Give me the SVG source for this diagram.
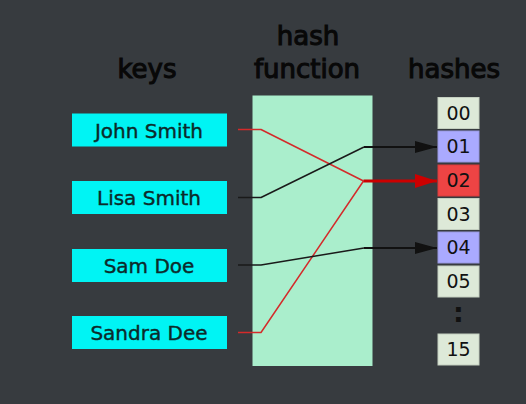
<svg xmlns="http://www.w3.org/2000/svg" width="526" height="404" viewBox="0 0 526 404">
  <defs>
    <marker id="arrowBlack" viewBox="0 0 22 12" refX="22" refY="6" markerUnits="userSpaceOnUse" markerWidth="22" markerHeight="12" orient="auto">
      <path d="M0,0 L22,6 L0,12 Z" fill="#111"/>
    </marker>
    <marker id="arrowRed" viewBox="0 0 22 14" refX="22" refY="7" markerUnits="userSpaceOnUse" markerWidth="22" markerHeight="14" orient="auto">
      <path d="M0,0 L22,7 L0,14 Z" fill="#cc0000"/>
    </marker>
  </defs>
  <style>
    .title { font-family: "DejaVu Sans", sans-serif; font-size: 26px; fill: #080808; stroke: #080808; stroke-width: 1.1px; text-anchor: middle; }
    .key rect { fill: #00f4f4; }
    .key text { font-family: "DejaVu Sans", sans-serif; font-size: 20px; fill: #0c2a2a; stroke: #0c2a2a; stroke-width: 0.4px; text-anchor: middle; }
    .slot rect { fill: #dde9d8; stroke: #c4cfc0; stroke-width: 1; }
    .slot.hit rect { fill: #aaaaff; stroke: #9898e0; }
    .slot.collide rect { fill: #ee4444; stroke: #d83c3c; }
    .slot text, .dots { font-family: "DejaVu Sans", sans-serif; font-size: 19px; fill: #111; text-anchor: middle; }
    .dots { font-size: 27px; font-weight: bold; }
    .wire { fill: none; stroke-width: 1.5; stroke-linejoin: round; }
    .wire.red { stroke: #d42a2a; }
    .wire.black { stroke: #1a1a1a; }
    .arrow { fill: none; }
  </style>

  <rect x="0" y="0" width="526" height="404" fill="#373b3f"/>

  <!-- column headings -->
  <text class="title" x="147" y="78">keys</text>
  <text class="title" x="308" y="45">hash</text>
  <text class="title" x="307" y="78">function</text>
  <text class="title" x="454" y="78">hashes</text>

  <!-- hash function block -->
  <g id="hash-function">
    <rect x="252.5" y="95.5" width="120" height="270.5" fill="#aaeecc"/>
  </g>

  <!-- keys -->
  <g id="key-john" class="key">
    <rect x="72" y="113.5" width="155" height="33"/>
    <text x="149" y="137.5">John Smith</text>
  </g>
  <g id="key-lisa" class="key">
    <rect x="72" y="181" width="155" height="33"/>
    <text x="149" y="205">Lisa Smith</text>
  </g>
  <g id="key-sam" class="key">
    <rect x="72" y="249" width="155" height="33"/>
    <text x="149" y="273">Sam Doe</text>
  </g>
  <g id="key-sandra" class="key">
    <rect x="72" y="316" width="155" height="33"/>
    <text x="149" y="340">Sandra Dee</text>
  </g>

  <!-- hash slots -->
  <g id="slot-00" class="slot">
    <rect x="438" y="97.5" width="41" height="31"/>
    <text x="458.5" y="119.5">00</text>
  </g>
  <g id="slot-01" class="slot hit">
    <rect x="438" y="131" width="41" height="31"/>
    <text x="458.5" y="153">01</text>
  </g>
  <g id="slot-02" class="slot collide">
    <rect x="438" y="165" width="41" height="31"/>
    <text x="458.5" y="187">02</text>
  </g>
  <g id="slot-03" class="slot">
    <rect x="438" y="198.5" width="41" height="31"/>
    <text x="458.5" y="220.5">03</text>
  </g>
  <g id="slot-04" class="slot hit">
    <rect x="438" y="232" width="41" height="31"/>
    <text x="458.5" y="254">04</text>
  </g>
  <g id="slot-05" class="slot">
    <rect x="438" y="266" width="41" height="31"/>
    <text x="458.5" y="288">05</text>
  </g>
  <g id="ellipsis">
    <text class="dots" x="458.5" y="322">:</text>
  </g>
  <g id="slot-15" class="slot">
    <rect x="438" y="334" width="41" height="31"/>
    <text x="458.5" y="356">15</text>
  </g>

  <!-- connectors -->
  <g id="connectors">
    <polyline class="wire red" points="238,129.5 261,129.5 363.5,181"/>
    <polyline class="wire red" points="238,332.5 261,332.5 363.5,181"/>
    <line class="arrow" x1="363.5" y1="181" x2="437" y2="181" stroke="#cc0000" stroke-width="3" marker-end="url(#arrowRed)"/>

    <polyline class="wire black" points="238,197.5 261,197.5 364,147"/>
    <line class="arrow" x1="364" y1="147" x2="437" y2="147" stroke="#111" stroke-width="2" marker-end="url(#arrowBlack)"/>

    <polyline class="wire black" points="238,265 261,265 364,248"/>
    <line class="arrow" x1="364" y1="248" x2="437" y2="248" stroke="#111" stroke-width="2" marker-end="url(#arrowBlack)"/>
  </g>
</svg>
